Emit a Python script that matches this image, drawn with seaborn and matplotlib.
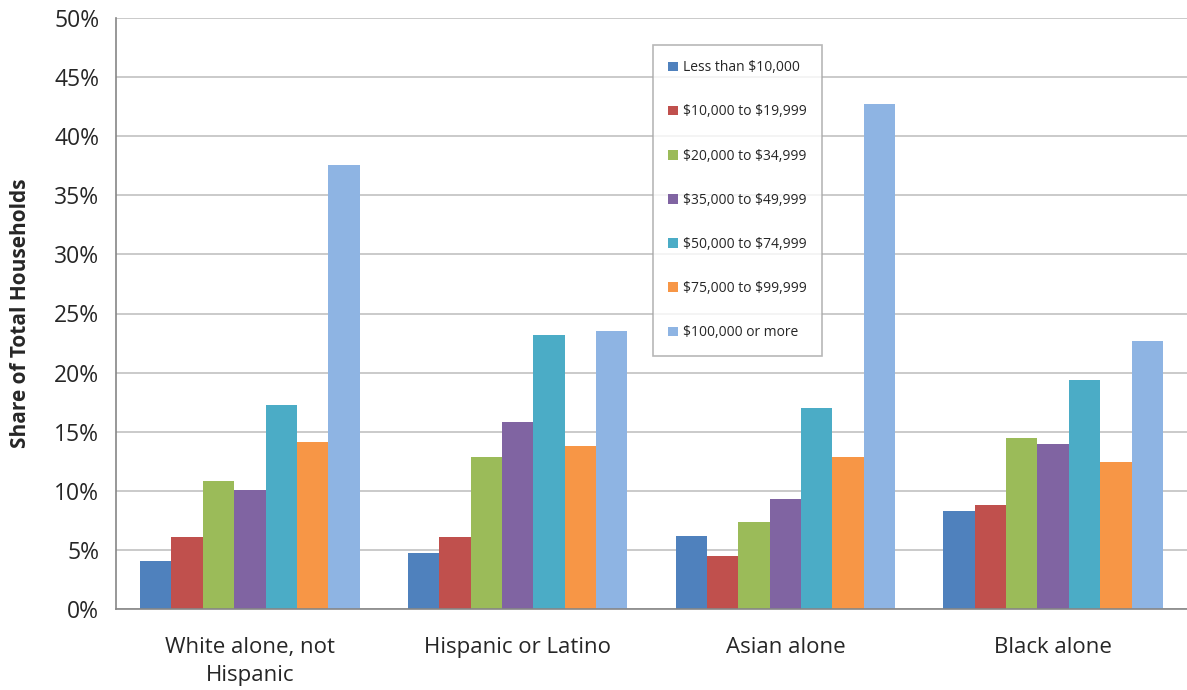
import matplotlib
matplotlib.use("Agg")
import matplotlib.pyplot as plt
import seaborn as sns
import pandas as pd
from matplotlib.ticker import FixedLocator, PercentFormatter

categories = ["White alone, not\nHispanic", "Hispanic or Latino", "Asian alone", "Black alone"]
brackets = ["Less than $10,000", "$10,000 to $19,999", "$20,000 to $34,999",
            "$35,000 to $49,999", "$50,000 to $74,999", "$75,000 to $99,999",
            "$100,000 or more"]
white = [4.1, 6.1, 10.8, 10.1, 17.3, 14.1, 37.6]
hispanic = [4.7, 6.1, 12.9, 15.8, 23.2, 13.8, 23.5]
asian = [6.2, 4.5, 7.4, 9.3, 17.0, 12.9, 42.7]
black = [8.3, 8.8, 14.5, 14.0, 19.4, 12.4, 22.7]
colors = ["#4F81BD", "#C0504D", "#9BBB59", "#8064A2", "#4BACC6", "#F79646", "#8EB4E3"]

rows = []
for cat, vals in zip(categories, [white, hispanic, asian, black]):
    for b, v in zip(brackets, vals):
        rows.append({"Group": cat, "Income": b, "Share": v})
df = pd.DataFrame(rows)

sns.set_style("white")
plt.rcParams["font.family"] = ["Open Sans", "DejaVu Sans"]
plt.rcParams["text.parse_math"] = False

fig = plt.figure(figsize=(11.87, 6.9), dpi=100)
ax = fig.add_axes([116/1187, 1 - 609/690, 1 - 116/1187, (609 - 18)/690])

sns.barplot(data=df, x="Group", y="Share", hue="Income", order=categories,
            hue_order=brackets, palette=colors, width=0.82, gap=0,
            saturation=1, ax=ax, legend=True, edgecolor="none", linewidth=0)

ax.set_ylim(0, 50)
ax.set_xlim(-0.5, 3.5)
ax.yaxis.set_major_locator(FixedLocator(range(0, 51, 5)))
ax.yaxis.set_major_formatter(PercentFormatter(decimals=0))
ax.set_axisbelow(True)
ax.grid(axis="y", color="#C6C6C6", linewidth=1.3)
ax.grid(axis="x", visible=False)

ax.set_xticks(range(4))
ax.set_xticklabels(categories, fontsize=16, linespacing=1.45)
ax.set_xticks([-0.5, 0.5, 1.5, 2.5, 3.5], minor=True)
ax.tick_params(axis="x", which="major", length=0, pad=20)
ax.tick_params(axis="x", which="minor", length=7, width=1.2, color="#868686", direction="out")
ax.tick_params(axis="y", length=7, width=1.2, color="#868686", direction="out",
               labelsize=16.5, pad=5)
ax.set_xlabel("")
ax.set_ylabel("Share of Total Households", fontsize=15, fontweight="bold", labelpad=17)

for s in ["top", "right"]:
    ax.spines[s].set_visible(False)
for s in ["left", "bottom"]:
    ax.spines[s].set_color("#868686")
    ax.spines[s].set_linewidth(1.2)

leg = ax.legend(loc="upper left", bbox_to_anchor=((653 - 116)/(1187 - 116), 1 - (45 - 18)/(609 - 18)),
                frameon=True, fontsize=10, labelspacing=2.1, handlelength=0.7,
                handleheight=0.7, handletextpad=0.35, borderpad=1.1, fancybox=False,
                borderaxespad=0)
leg.get_frame().set_edgecolor("#A6A6A6")
leg.get_frame().set_linewidth(1.2)

fig.savefig("out.png", dpi=100)
